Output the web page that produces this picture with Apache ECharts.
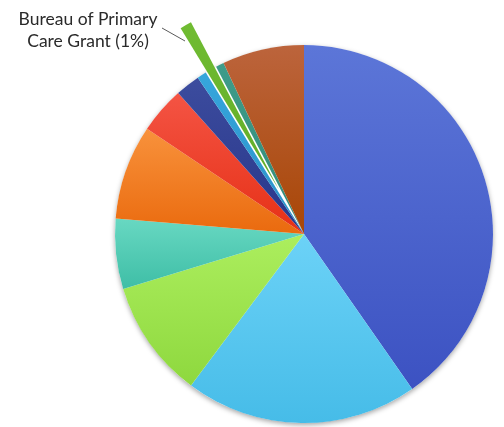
<!DOCTYPE html>
<html>
<head>
<meta charset="utf-8">
<script src="https://cdn.jsdelivr.net/npm/echarts@6/dist/echarts.min.js"></script>
<style>
  html, body { margin: 0; padding: 0; background: #ffffff; }
  #chart { width: 504px; height: 427px; }
</style>
</head>
<body>
<div id="chart"></div>
<script>
// Funding sources, share of total (%), clockwise from 12 o'clock
const categories = [
  'Source A', 'Source B', 'Source C', 'Source D', 'Source E', 'Source F',
  'Source G', 'Source H', 'Bureau of Primary Care Grant', 'Source J', 'Source K'
];
const shares = [40.3, 19.9, 10.1, 6.0, 8.1, 4.0, 2.1, 0.8, 1.0, 0.7, 7.0];
// top / bottom tones of each slice
const topColors    = ['#5c76d8', '#6cd2f7', '#acee5e', '#68d8c2', '#f8923c', '#f45444', '#3c4c9e', '#36a6dc', '#70bc32', '#3e9c8a', '#bc643c'];
const bottomColors = ['#3c52c2', '#46bce8', '#8ed83e', '#3ebea6', '#ea6a0e', '#e63016', '#28368a', '#2a90c8', '#62ac28', '#348a78', '#a84606'];
const highlighted = 'Bureau of Primary Care Grant';
const hiIndex = categories.indexOf(highlighted);

function grad(a, b) {
  return new echarts.graphic.LinearGradient(0, 0, 0, 1, [
    { offset: 0, color: a }, { offset: 1, color: b }
  ]);
}

const pieData = categories.map((name, i) => ({
  name: name,
  value: shares[i],
  selected: i === hiIndex,
  itemStyle: { color: grad(topColors[i], bottomColors[i]) }
}));

const chart = echarts.init(document.getElementById('chart'), null, { renderer: 'canvas' });
chart.setOption({
  animation: false,
  // callout for the pulled-out slice
  graphic: [
    {
      type: 'text',
      x: 88,
      y: 8,
      style: {
        text: 'Bureau of Primary\nCare Grant (' + Math.round(shares[hiIndex]) + '%)',
        font: '17.5px Lato',
        lineHeight: 22,
        fill: '#2a2a2a',
        align: 'center',
        verticalAlign: 'top'
      }
    },
    {
      type: 'polyline',
      shape: { points: [[162, 28], [185, 41]] },
      style: { stroke: '#5a5a5a', lineWidth: 1 }
    }
  ],
  series: [
    {
      // soft backdrop giving the disc its drop shadow
      type: 'pie',
      silent: true,
      z: 1,
      center: [304, 234],
      radius: 189,
      label: { show: false },
      labelLine: { show: false },
      itemStyle: {
        color: '#ffffff',
        shadowBlur: 5,
        shadowOffsetY: 2,
        shadowColor: 'rgba(0,0,0,0.35)'
      },
      data: [{ value: 1 }]
    },
    {
      type: 'pie',
      z: 2,
      center: [304, 234],
      radius: 189,
      startAngle: 90,
      clockwise: true,
      selectedMode: 'single',
      selectedOffset: 51,
      itemStyle: { borderWidth: 0 },
      emphasis: { disabled: true },
      label: { show: false },
      labelLine: { show: false },
      data: pieData
    }
  ]
});
</script>
</body>
</html>
